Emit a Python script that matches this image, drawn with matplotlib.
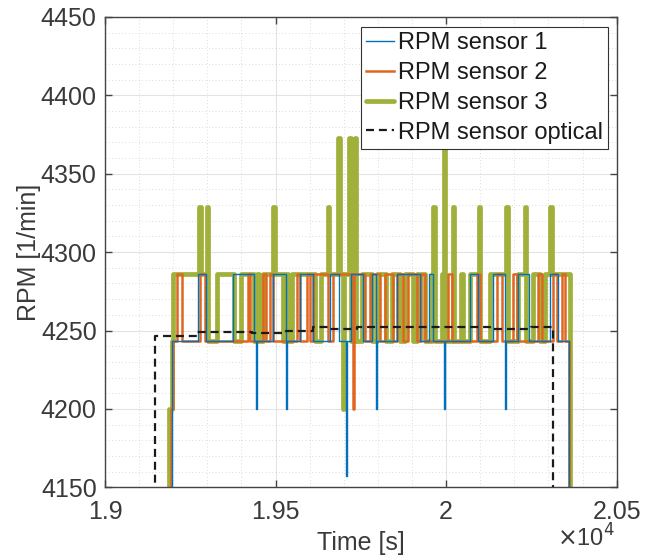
import matplotlib
matplotlib.use("Agg")
import matplotlib.pyplot as plt
from matplotlib.ticker import MultipleLocator, FixedLocator, FixedFormatter

plt.rcParams['font.family'] = ['Liberation Sans', 'DejaVu Sans']

# ---- data (time [s], RPM) step signals ----
s1_t = [19100, 19195, 19273, 19296, 19375, 19437, 19443, 19446, 19492, 19530, 19534,
        19572, 19610, 19660, 19686, 19706, 19710, 19721, 19756, 19783, 19794, 19797,
        19856, 19923, 19950, 19962, 19994, 19997, 20070, 20093, 20137, 20173, 20176,
        20211, 20243, 20305, 20328, 20360, 20400]
s1_v = [4000, 4243, 4286, 4243, 4286, 4243, 4200, 4243, 4286, 4200, 4243,
        4286, 4243, 4286, 4243, 4157, 4243, 4286, 4243, 4286, 4200, 4243,
        4286, 4243, 4286, 4243, 4200, 4243, 4286, 4243, 4286, 4200, 4243,
        4286, 4243, 4286, 4243, 4000, 4000]

s2_t = [19100, 19192, 19199, 19211, 19226, 19278, 19293, 19419, 19425, 19463, 19472,
        19484, 19492, 19563, 19572, 19592, 19601, 19610, 19654, 19668, 19727, 19731,
        19762, 19777, 19806, 19821, 19844, 19856, 19874, 19888, 19915, 19926, 19938,
        20005, 20017, 20091, 20099, 20149, 20164, 20196, 20208, 20269, 20281, 20313,
        20325, 20340, 20348, 20360, 20400]
s2_v = [4000, 4200, 4243, 4286, 4243, 4286, 4243, 4286, 4243, 4286, 4243,
        4286, 4243, 4286, 4243, 4286, 4243, 4286, 4243, 4286, 4200, 4286,
        4243, 4286, 4243, 4286, 4243, 4286, 4243, 4286, 4243, 4286, 4243,
        4286, 4243, 4286, 4243, 4286, 4243, 4286, 4243, 4286, 4243, 4286,
        4243, 4286, 4243, 4000, 4000]

s3_t = [19100, 19188, 19196, 19200, 19276, 19280, 19298, 19302, 19328, 19377, 19399,
        19437, 19445, 19450, 19463, 19493, 19497, 19522, 19528, 19535, 19548, 19616,
        19633, 19654, 19658, 19683, 19688, 19697, 19702, 19716, 19720, 19733, 19737,
        19753, 19783, 19797, 19824, 19841, 19865, 19880, 19903, 19915, 19938, 19959,
        19962, 19966, 19988, 19994, 19998, 20020, 20024, 20045, 20050, 20070, 20096,
        20100, 20129, 20176, 20180, 20210, 20231, 20235, 20255, 20275, 20290, 20305,
        20309, 20364, 20400]
s3_v = [4000, 4200, 4243, 4286, 4329, 4286, 4329, 4243, 4286, 4243, 4286,
        4243, 4286, 4243, 4286, 4329, 4286, 4243, 4286, 4243, 4286, 4243,
        4286, 4329, 4286, 4373, 4286, 4200, 4286, 4373, 4243, 4373, 4243,
        4286, 4243, 4286, 4243, 4286, 4243, 4286, 4243, 4286, 4243, 4286,
        4329, 4243, 4286, 4366, 4243, 4329, 4243, 4286, 4243, 4286, 4329,
        4243, 4286, 4329, 4243, 4286, 4329, 4243, 4286, 4243, 4286, 4329,
        4286, 4000, 4000]

opt_t = [19100, 19147, 19270, 19430, 19530, 19610, 19655, 19740, 20130, 20250, 20313, 20400]
opt_v = [4000, 4246.5, 4249, 4248.5, 4250, 4252, 4251, 4252.2, 4250.7, 4252.2, 4000, 4000]

labels = ['RPM sensor 1', 'RPM sensor 2', 'RPM sensor 3', 'RPM sensor optical']
xticks = [19000, 19500, 20000, 20500]
xticklabels = ['1.9', '1.95', '2', '2.05']

# ---- figure ----
fig = plt.figure(figsize=(6.51, 5.59), dpi=100)
ax = fig.add_axes([0.1613, 0.1283, 0.786, 0.8413])

c1, c2, c3 = '#0072BD', '#E0661F', '#A0B03A'
ax.plot(s1_t, s1_v, drawstyle='steps-post', color=c1, lw=1.0, label=labels[0], zorder=3)
ax.plot(s2_t, s2_v, drawstyle='steps-post', color=c2, lw=1.8, label=labels[1], zorder=2)
ax.plot(s3_t, s3_v, drawstyle='steps-post', color=c3, lw=3.4, label=labels[2], zorder=1,
        solid_joinstyle='round', solid_capstyle='round')
ax.plot(opt_t, opt_v, drawstyle='steps-post', color='#1a1a1a', lw=1.6,
        ls=(0, (3.6, 2.2)), label=labels[3], zorder=4)

ax.set_xlim(19000, 20500)
ax.set_ylim(4150, 4450)
ax.xaxis.set_major_locator(FixedLocator(xticks))
ax.xaxis.set_major_formatter(FixedFormatter(xticklabels))
ax.xaxis.set_minor_locator(MultipleLocator(100))
ax.yaxis.set_major_locator(MultipleLocator(50))
ax.yaxis.set_minor_locator(MultipleLocator(10))

ax.grid(which='major', color='#e3e3e3', lw=0.8, ls='-')
ax.grid(which='minor', color='#d0d0d0', lw=0.6, ls=(0, (1, 3)))
ax.set_axisbelow(True)

for sp in ax.spines.values():
    sp.set_color('#444444')
    sp.set_linewidth(1.0)
ax.tick_params(which='major', direction='in', length=5, width=1, colors='#444444',
               top=True, right=True, labelsize=18, labelcolor='#3a3a3a')
ax.tick_params(axis='x', which='major', pad=9)
ax.tick_params(axis='y', which='major', pad=6)
ax.tick_params(which='minor', length=0, top=True, right=True)

ax.set_xlabel('Time [s]', fontsize=18, color='#3a3a3a', labelpad=5)
ax.set_ylabel('RPM [1/min]', fontsize=18, color='#3a3a3a', labelpad=0)

fig.text(0.945, 0.013, r'$\times$10$^{4}$', fontsize=17, color='#3a3a3a', ha='right', va='bottom')

leg = ax.legend(loc='upper right', bbox_to_anchor=(608/651, 1 - 27/559),
                bbox_transform=fig.transFigure, borderaxespad=0, fontsize=17,
                handlelength=1.2, handletextpad=0.15, borderpad=0.22, labelspacing=0.33,
                fancybox=False, framealpha=1, edgecolor='#333333')
leg.get_frame().set_linewidth(0.8)
for t in leg.get_texts():
    t.set_color('#1a1a1a')

fig.savefig('out.png', dpi=100)
